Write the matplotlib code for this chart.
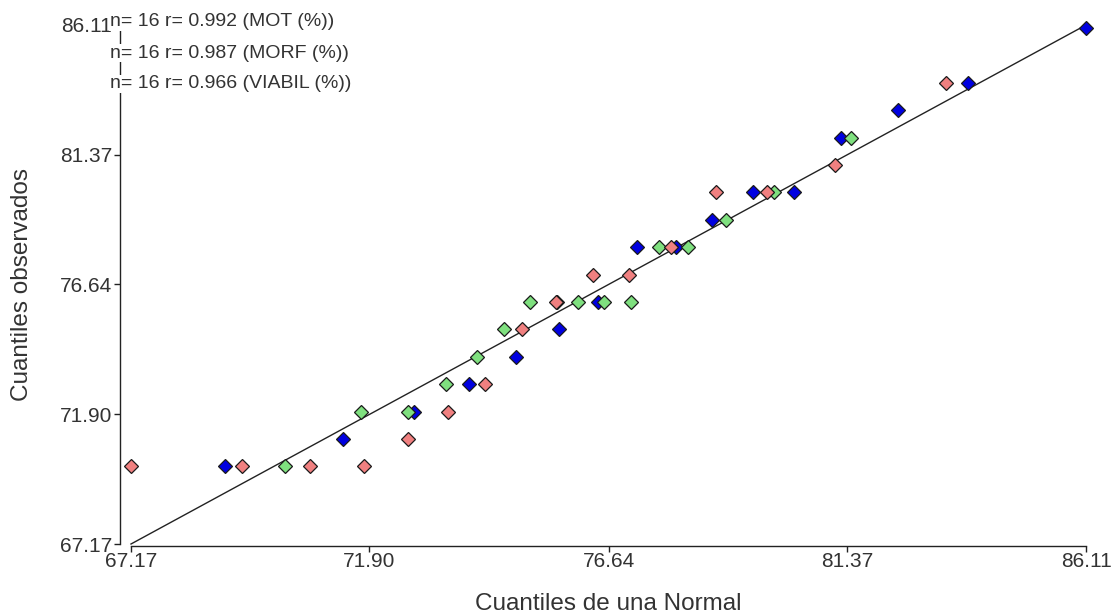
import matplotlib.pyplot as plt

plt.rcParams["font.family"] = ["Liberation Sans", "DejaVu Sans"]

# Normal quantiles (x) against observed sorted values (y), one series per variable
mot_x = [69.03, 71.37, 72.78, 73.87, 74.81, 75.66, 76.43, 77.21,
         77.98, 78.69, 79.51, 80.32, 81.25, 82.38, 83.77, 86.11]
mot_y = [70, 71, 72, 73, 74, 75, 76, 78, 78, 79, 80, 80, 82, 83, 84, 86]

morf_x = [67.17, 69.37, 70.72, 71.79, 72.66, 73.46, 74.19, 74.92,
          75.60, 76.33, 77.05, 77.88, 78.77, 79.78, 81.13, 83.33]
morf_y = [70, 70, 70, 70, 71, 72, 73, 75, 76, 77, 77, 78, 80, 80, 81, 84]

viabil_x = [70.22, 71.73, 72.66, 73.42, 74.03, 74.57, 75.08, 75.62,
            76.04, 76.55, 77.09, 77.64, 78.22, 78.97, 79.92, 81.45]
viabil_y = [70, 72, 72, 73, 74, 75, 76, 76, 76, 76, 76, 78, 78, 79, 80, 82]

legend_lines = ["n= 16 r= 0.992 (MOT (%))",
                "n= 16 r= 0.987 (MORF (%))",
                "n= 16 r= 0.966 (VIABIL (%))"]

ticks = [67.17, 71.90, 76.64, 81.37, 86.11]
lo, hi = ticks[0], ticks[-1]

W, H = 1119, 614
fig = plt.figure(figsize=(W / 100, H / 100), dpi=100)
ax = fig.add_axes([131 / W, 1 - 544 / H, (1086 - 131) / W, (544 - 25) / H])
ax.set_xlim(lo, hi)
ax.set_ylim(lo, hi)

txt = "#333333"
ax.plot([lo, hi], [lo, hi], color="#222222", lw=1.0, zorder=2, clip_on=False)

style = dict(ls="none", marker="D", ms=6.8, mec="#1a1a1a", mew=0.9, clip_on=False, zorder=3)
ax.plot(mot_x, mot_y, mfc="#0000e0", **style)
ax.plot(viabil_x, viabil_y, mfc="#7fe07f", **style)
ax.plot(morf_x, morf_y, mfc="#f08080", **style)

for side in ("top", "right"):
    ax.spines[side].set_visible(False)
ax.spines["left"].set_position(("outward", 8))
ax.spines["bottom"].set_position(("outward", 1.5))
for side in ("left", "bottom"):
    ax.spines[side].set_bounds(lo, hi)
    ax.spines[side].set_color("#222222")
    ax.spines[side].set_linewidth(1.0)

ax.set_xticks(ticks)
ax.set_yticks(ticks)
ax.set_xticklabels([f"{t:.2f}" for t in ticks])
ax.set_yticklabels([f"{t:.2f}" for t in ticks])
ax.tick_params(length=4, width=1, color="#222222", labelsize=15,
               labelcolor=txt)
ax.tick_params(axis="x", pad=0.5)
ax.tick_params(axis="y", pad=1.5)

ax.set_xlabel("Cuantiles de una Normal", fontsize=17.5, color=txt, va="center")
ax.set_ylabel("Cuantiles observados", fontsize=17.5, color=txt, va="center")
ax.xaxis.set_label_coords(0.5, (544 - 604) / 519)
ax.yaxis.set_label_coords((22 - 131) / 955, 0.5)

for i, line in enumerate(legend_lines):
    fig.text(110 / W, 1 - (22 + 31 * i) / H, line, fontsize=14, color=txt,
             ha="left", va="center", zorder=5,
             bbox=dict(facecolor="white", edgecolor="none", pad=0.5))

fig.savefig("out.png", dpi=100)
